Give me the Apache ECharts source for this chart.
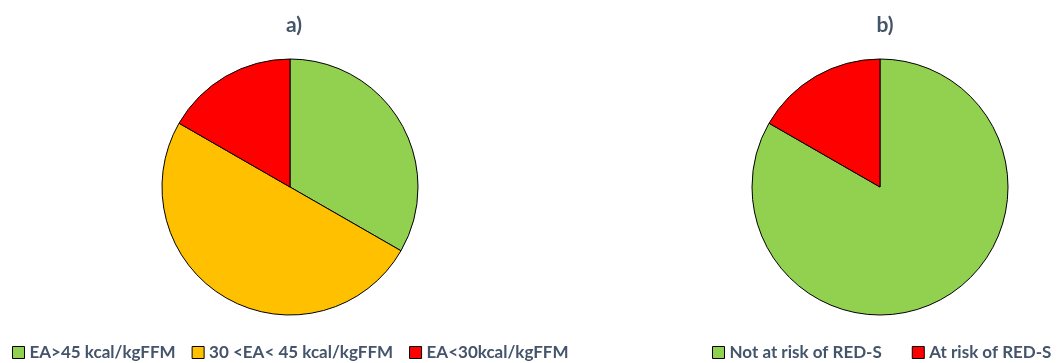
<!DOCTYPE html>
<html><head><meta charset="utf-8">
<script src="https://cdn.jsdelivr.net/npm/echarts@6/dist/echarts.min.js"></script>
<style>html,body{margin:0;padding:0;background:#fff}#c{width:1057px;height:363px}</style>
</head><body><div id="c"></div>
<script>
const catsA = ['EA>45 kcal/kgFFM', '30 <EA< 45 kcal/kgFFM', 'EA<30kcal/kgFFM'];
const valsA = [33.3, 50.0, 16.7];
const colorsA = ['#92D050', '#FFC000', '#FF0000'];
const catsB = ['Not at risk of RED-S', 'At risk of RED-S'];
const valsB = [83.3, 16.7];
const colorsB = ['#92D050', '#FF0000'];
const titles = ['a)', 'b)'];

const font = 'Lato';
const txtColor = '#44546A';
const chart = echarts.init(document.getElementById('c'), null, {renderer: 'canvas'});
function mk(cats, vals, cols) {
  return cats.map((n, i) => ({name: n, value: vals[i], itemStyle: {color: cols[i]}}));
}
const legendText = {color: txtColor, fontFamily: font, fontWeight: 'bold', fontSize: 17};
const titleText = {color: txtColor, fontFamily: font, fontWeight: 'bold', fontSize: 21};
chart.setOption({
  animation: false,
  title: [
    {text: titles[0], left: 289, top: 10, textAlign: 'center', textStyle: titleText},
    {text: titles[1], left: 880, top: 10, textAlign: 'center', textStyle: titleText}
  ],
  legend: [
    {data: catsA, left: 12, top: 339, padding: [5, 0, 5, 0], itemWidth: 12, itemHeight: 12, itemGap: 16, icon: 'rect',
     itemStyle: {borderColor: '#000', borderWidth: 1}, textStyle: legendText, selectedMode: false},
    {data: catsB, left: 712, top: 339, width: 345, padding: [5, 0, 5, 0], itemWidth: 12, itemHeight: 12, itemGap: 30, icon: 'rect',
     itemStyle: {borderColor: '#000', borderWidth: 1}, textStyle: legendText, selectedMode: false}
  ],
  series: [
    {type: 'pie', center: [290, 187], radius: 128, startAngle: 90, clockwise: true,
     label: {show: false}, labelLine: {show: false}, emphasis: {disabled: true},
     itemStyle: {borderColor: '#000', borderWidth: 1}, data: mk(catsA, valsA, colorsA)},
    {type: 'pie', center: [880, 187], radius: 128, startAngle: 90, clockwise: true,
     label: {show: false}, labelLine: {show: false}, emphasis: {disabled: true},
     itemStyle: {borderColor: '#000', borderWidth: 1}, data: mk(catsB, valsB, colorsB)}
  ]
});
</script></body></html>
